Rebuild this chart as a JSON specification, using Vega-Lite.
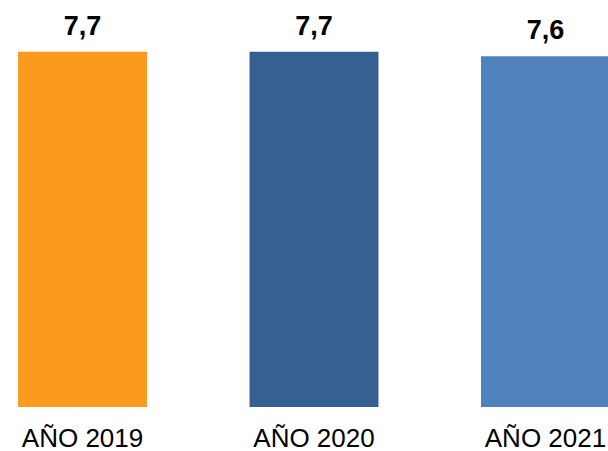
{
  "$schema": "https://vega.github.io/schema/vega-lite/v6.json",
  "width": 608,
  "height": 407,
  "padding": {"left": 0, "top": 0, "right": 0, "bottom": 44},
  "autosize": {"type": "none"},
  "background": "white",
  "config": {
    "view": {"stroke": null},
    "locale": {"number": {"decimal": ",", "thousands": ".", "grouping": [3], "currency": ["", " €"]}}
  },
  "data": {
    "values": [
      {"anio": "AÑO 2019", "valor": 7.7},
      {"anio": "AÑO 2020", "valor": 7.7},
      {"anio": "AÑO 2021", "valor": 7.6}
    ]
  },
  "encoding": {
    "x": {
      "field": "anio",
      "type": "nominal",
      "sort": null,
      "scale": {"range": [0, 628], "paddingInner": 0.443, "paddingOuter": 0.078},
      "axis": {
        "title": null,
        "domain": false,
        "ticks": false,
        "labelAngle": 0,
        "labelFont": "Liberation Sans",
        "labelFontSize": 26,
        "labelColor": "#000000",
        "labelPadding": 18,
        "labelOverlap": false,
        "labelBound": false
      }
    },
    "y": {
      "field": "valor",
      "type": "quantitative",
      "scale": {"domain": [0, 8.82], "nice": false, "zero": true},
      "axis": null
    }
  },
  "layer": [
    {
      "mark": {"type": "bar"},
      "encoding": {
        "color": {
          "field": "anio",
          "type": "nominal",
          "sort": null,
          "scale": {"range": ["#FA9B1E", "#376092", "#4F81BD"]},
          "legend": null
        }
      }
    },
    {
      "mark": {
        "type": "text",
        "dy": -17,
        "baseline": "alphabetic",
        "font": "Liberation Sans",
        "fontSize": 27,
        "fontWeight": "bold",
        "color": "#000000"
      },
      "encoding": {
        "text": {"field": "valor", "type": "quantitative", "format": ".1f"}
      }
    }
  ]
}
